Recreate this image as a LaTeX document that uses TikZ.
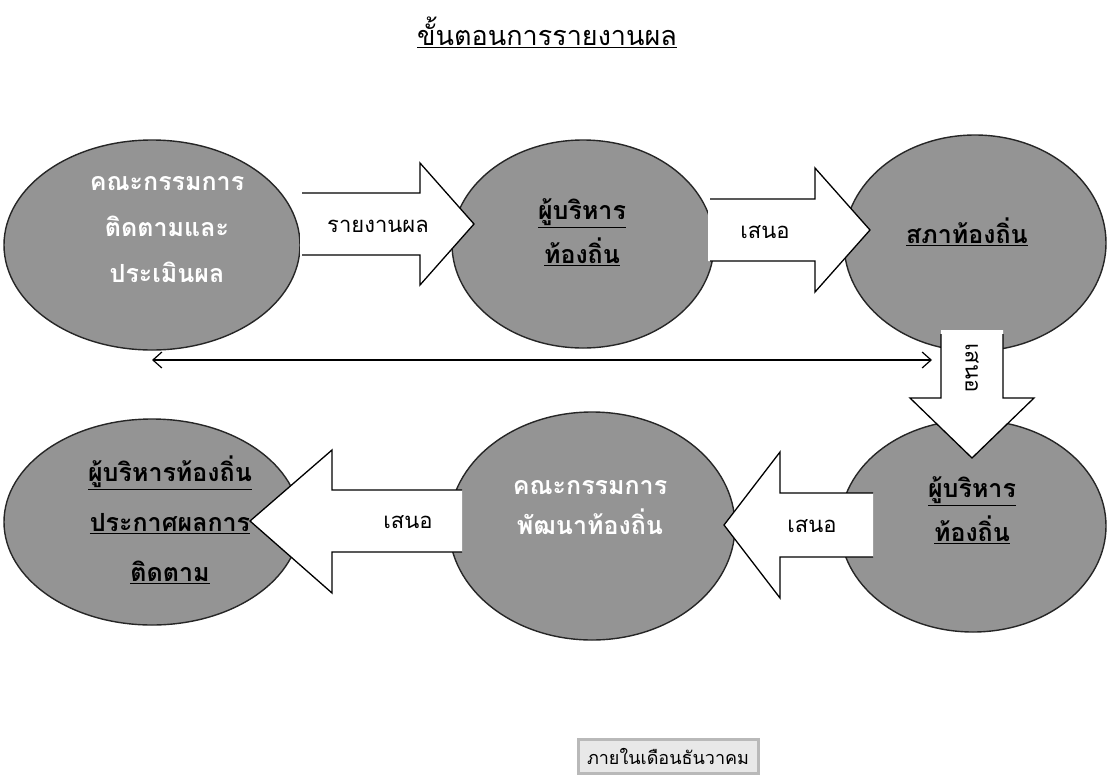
\documentclass[tikz,border=0pt]{standalone}
\usepackage{fontspec}
\newfontfamily\thai[Script=Thai]{Loma}
\usetikzlibrary{arrows.meta,shapes.geometric}
\begin{document}
\begin{tikzpicture}[x=1pt,y=-1pt,
  bubble/.style={ellipse, draw=black!85, line width=1.4pt, fill=black!42, inner sep=0pt},
  intext/.style={align=center, font=\thai\bfseries\fontsize{25}{44}\selectfont, text=black},
  whitetext/.style={align=center, font=\thai\bfseries\fontsize{25}{46}\selectfont, text=white},
  blkfill/.style={fill=white, draw=none},
  blkline/.style={draw=black, line width=1.3pt, line join=miter},
  lbl/.style={font=\thai\fontsize{22}{26}\selectfont, text=black}]
\useasboundingbox (0,0) rectangle (1108,777);
\fill[white] (0,0) rectangle (1108,777);

% title
\node[font=\thai\fontsize{27}{32}\selectfont] (title) at (547,32) {\underline{ขั้นตอนการรายงานผล}};

% ellipses
\node[bubble, minimum width=296pt, minimum height=210pt] (e1) at (152,245) {};
\node[bubble, minimum width=262pt, minimum height=208pt] (e2) at (583,244) {};
\node[bubble, minimum width=262pt, minimum height=216pt] (e3) at (975,243) {};
\node[bubble, minimum width=266pt, minimum height=212pt] (e4) at (973,526) {};
\node[bubble, minimum width=286pt, minimum height=228pt] (e5) at (592,526) {};
\node[bubble, minimum width=296pt, minimum height=206pt] (e6) at (152,522) {};

% block arrow A1: e1 -> e2
\fill[blkfill] (300,193) -- (420,193) -- (420,163) -- (474,224) -- (420,285) -- (420,255) -- (300,255) -- cycle;
\draw[blkline] (302,193) -- (420,193) -- (420,163) -- (474,224) -- (420,285) -- (420,255) -- (302,255);
% block arrow A2: e2 -> e3
\fill[blkfill] (708,199) -- (815,199) -- (815,168) -- (870,230) -- (815,292) -- (815,261) -- (708,261) -- cycle;
\draw[blkline] (710,199) -- (815,199) -- (815,168) -- (870,230) -- (815,292) -- (815,261) -- (710,261);
% block arrow A3: e3 -> e4 (down)
\fill[blkfill] (941,330) -- (941,398) -- (910,398) -- (972,458) -- (1034,398) -- (1003,398) -- (1003,330) -- cycle;
\draw[blkline] (941,334) -- (941,398) -- (910,398) -- (972,458) -- (1034,398) -- (1003,398) -- (1003,334);
% block arrow A4: e4 -> e5 (left)
\fill[blkfill] (873,493) -- (780,493) -- (780,452) -- (724,525) -- (780,598) -- (780,557) -- (873,557) -- cycle;
\draw[blkline] (873,493) -- (780,493) -- (780,452) -- (724,525) -- (780,598) -- (780,557) -- (873,557);
% block arrow A5: e5 -> e6 (left)
\fill[blkfill] (462,490) -- (332,490) -- (332,450) -- (250,521) -- (332,593) -- (332,552) -- (462,552) -- cycle;
\draw[blkline] (462,490) -- (332,490) -- (332,450) -- (250,521) -- (332,593) -- (332,552) -- (462,552);

% arrow labels
\node[lbl] (l1) at (378,226) {รายงานผล};
\node[lbl] (l2) at (765,232) {เสนอ};
\node[lbl, rotate=-90] (l3) at (972,368) {เสนอ};
\node[lbl] (l4) at (812,526) {เสนอ};
\node[lbl] (l5) at (408,522) {เสนอ};

% ellipse texts
\node[whitetext] (t1) at (167,230) {คณะกรรมการ\\ติดตามและ\\ประเมินผล};
\node[intext] (t2) at (582,232) {\underline{ผู้บริหาร}\\\underline{ท้องถิ่น}};
\node[intext] (t3) at (967,232) {\underline{สภาท้องถิ่น}};
\node[intext] (t4) at (972,510) {\underline{ผู้บริหาร}\\\underline{ท้องถิ่น}};
\node[whitetext, font=\thai\bfseries\fontsize{25}{40}\selectfont] (t5) at (590,508) {คณะกรรมการ\\พัฒนาท้องถิ่น};
\node[intext, font=\thai\bfseries\fontsize{25}{50}\selectfont] (t6) at (170,520) {\underline{ผู้บริหารท้องถิ่น}\\\underline{ประกาศผลการ}\\\underline{ติดตาม}};

% thin double-headed arrow
\coordinate (dl) at (152,360);
\coordinate (dr) at (932,360);
\draw[{Straight Barb[length=9pt,width=16pt]}-{Straight Barb[length=9pt,width=16pt]}, line width=1.2pt] (dl) -- (dr);

% bottom box
\node[draw=gray!55, line width=3pt, fill=gray!18, minimum width=180pt, minimum height=34pt,
      font=\thai\fontsize{18}{22}\selectfont] (box) at (668,756) {ภายในเดือนธันวาคม};
\end{tikzpicture}
\end{document}
